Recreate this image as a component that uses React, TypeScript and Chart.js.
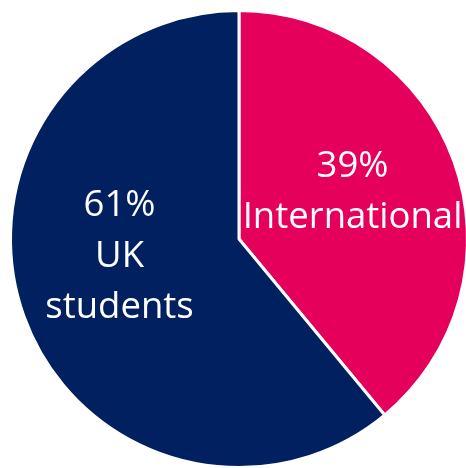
import React, { useEffect, useRef } from "react";
import { Chart, registerables } from "chart.js";

Chart.register(...registerables);

const categories = ["International", "UK students"];
const values = [39, 61];
const labelLines = [["39%", "International"], ["61%", "UK", "students"]];
const colors = ["#E5005B", "#00205F"];
const labelOffsets = [[6, 2], [-12, -11]];

const labelPlugin = {
  id: "pieLabels",
  afterDatasetsDraw(chart: any) {
    const ctx = chart.ctx;
    const meta = chart.getDatasetMeta(0);
    ctx.save();
    ctx.fillStyle = "#FFFFFF";
    ctx.font = "36.5px 'Open Sans'";
    ctx.textAlign = "center";
    ctx.textBaseline = "alphabetic";
    const lineH = 51;
    meta.data.forEach((arc: any, i: number) => {
      const p = arc.tooltipPosition();
      const lines = labelLines[i];
      const cx = p.x + labelOffsets[i][0];
      const cy = p.y + labelOffsets[i][1];
      lines.forEach((t, j) => {
        const y = cy + (j - (lines.length - 1) / 2) * lineH;
        ctx.fillText(t, cx, y);
      });
    });
    ctx.restore();
  },
};

export default function App() {
  const ref = useRef<HTMLCanvasElement>(null);
  useEffect(() => {
    document.body.style.overflow = "hidden";
    const chart = new Chart(ref.current!, {
      type: "pie",
      data: {
        labels: categories,
        datasets: [
          {
            data: values,
            backgroundColor: colors,
            borderColor: "#FFFFFF",
            borderWidth: 3,
          },
        ],
      },
      options: {
        animation: false,
        responsive: false,
        layout: { padding: 9 },
        plugins: { legend: { display: false }, tooltip: { enabled: false } },
      },
      plugins: [labelPlugin],
    });
    return () => chart.destroy();
  }, []);
  return (
    <div style={{ position: "fixed", left: 0, top: 0, width: 466, height: 468, overflow: "hidden", background: "#fff" }}>
      <canvas ref={ref} width={478} height={478} style={{ width: 478, height: 478, display: "block" }} />
    </div>
  );
}
